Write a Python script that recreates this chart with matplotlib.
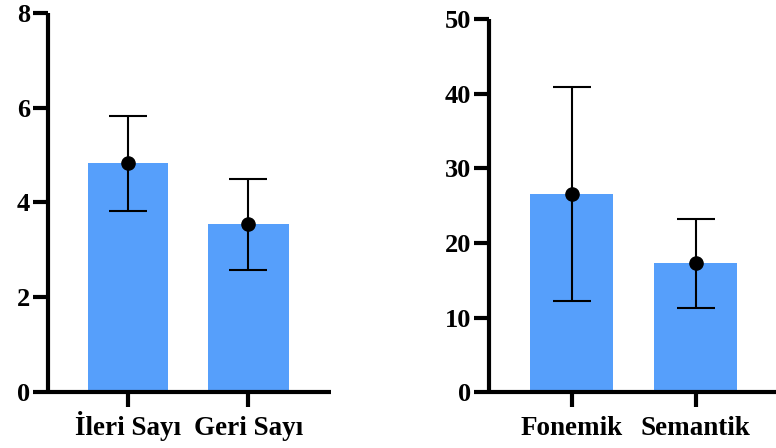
import matplotlib
matplotlib.use("Agg")
import matplotlib.pyplot as plt

# Data
left_categories = ["İleri Sayı", "Geri Sayı"]
left_means = [4.83, 3.54]
left_sd = [1.00, 0.96]
left_ticks = [0, 2, 4, 6, 8]

right_categories = ["Fonemik", "Semantik"]
right_means = [26.6, 17.3]
right_sd = [14.3, 5.95]
right_ticks = [0, 10, 20, 30, 40, 50]

bar_color = "#569ffb"

plt.rcParams['font.family'] = ['Liberation Serif', 'DejaVu Serif']
plt.rcParams['font.weight'] = 'bold'

fig = plt.figure(figsize=(7.76, 4.48), dpi=100)
ax1 = fig.add_axes([0.0619, 0.125, 0.3647, 0.846])
ax2 = fig.add_axes([0.6306, 0.1242, 0.3694, 0.8333])


def draw(ax, cats, means, sds, ticks, xlim):
    x = list(range(len(cats)))
    ax.bar(x, means, width=0.67, color=bar_color, zorder=1)
    ax.errorbar(x, means, yerr=sds, fmt='o', color='black', ecolor='black',
                elinewidth=1.5, capsize=14, capthick=1.5, markersize=9.5, zorder=3)
    ax.set_xlim(*xlim)
    ax.set_ylim(ticks[0], ticks[-1])
    ax.set_yticks(ticks)
    ax.set_xticks(x)
    ax.set_xticklabels(cats, fontsize=19.5, fontweight='bold', va='baseline')
    for lab in ax.get_yticklabels():
        lab.set_fontsize(19)
        lab.set_fontweight('bold')
    for s in ['top', 'right']:
        ax.spines[s].set_visible(False)
    for s in ['left', 'bottom']:
        ax.spines[s].set_linewidth(3)
        ax.spines[s].set_capstyle('butt')
    ax.tick_params(axis='both', length=11, width=3, pad=2)
    ax.tick_params(axis='x', pad=20)
    ax.set_facecolor('none')


draw(ax1, left_categories, left_means, left_sd, left_ticks, (-0.665, 1.687))
draw(ax2, right_categories, right_means, right_sd, right_ticks, (-0.665, 1.65))

fig.savefig("out.png", dpi=100)
